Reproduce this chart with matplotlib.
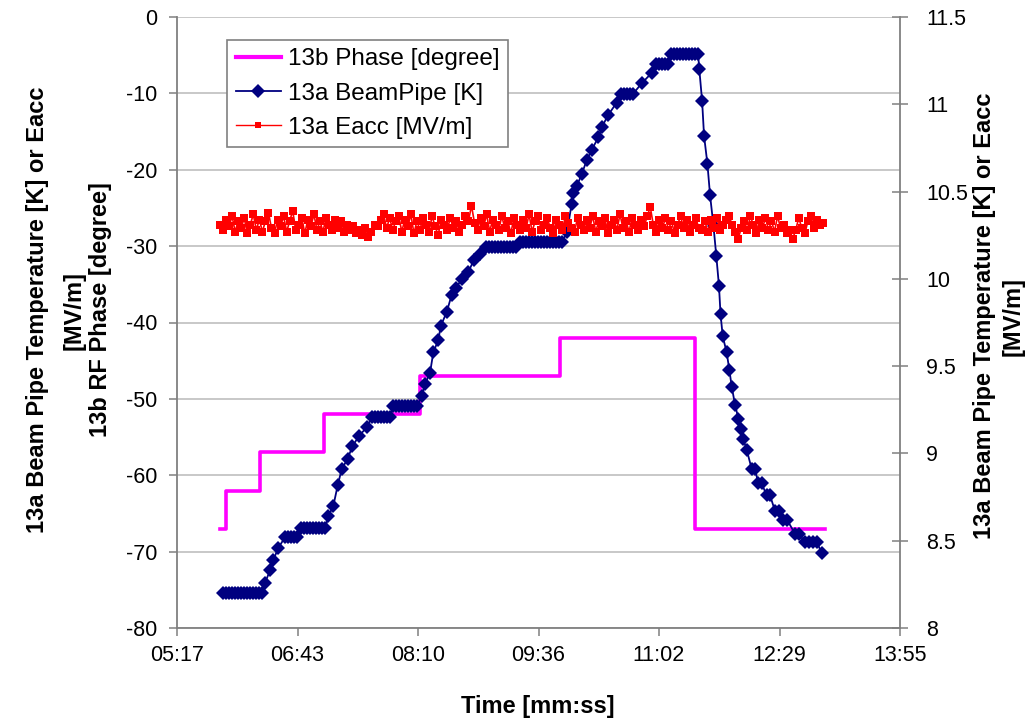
import numpy as np
import matplotlib
matplotlib.use("Agg")
import matplotlib.pyplot as plt
from matplotlib.ticker import FixedLocator, FixedFormatter
from matplotlib.lines import Line2D

plt.rcParams['font.family'] = ['Liberation Sans', 'DejaVu Sans']
plt.rcParams['axes.unicode_minus'] = False

# ---------------- data ----------------
# x axis: time in seconds (Excel mm:ss ticks)
x_tick_values = [316.9, 403.3, 489.7, 576.1, 662.5, 748.9, 835.3]
x_tick_labels = ['05:17', '06:43', '08:10', '09:36', '11:02', '12:29', '13:55']
left_ticks = [-80, -70, -60, -50, -40, -30, -20, -10, 0]
right_ticks = [8, 8.5, 9, 9.5, 10, 10.5, 11, 11.5]
right_tick_labels = ['8', '8.5', '9', '9.5', '10', '10.5', '11', '11.5']

# 13b Phase [degree] (left axis), step changes
phase_t = [347.7, 352.0, 376.1, 422.0, 491.1, 591.5, 688.3, 781.5]
phase_v = [-67, -62, -57, -52, -47, -42, -67, -67]

# 13a BeamPipe [K] (right axis)
beam_t = [
    349.9, 352.1, 354.2, 356.4, 358.5, 360.7, 362.8, 365.0, 367.1, 369.3, 371.4, 373.6, 375.7, 377.9,
    380.1, 383.6, 386.0, 389.6,
    394.4, 396.5, 398.7, 400.8, 403.0,
    405.9, 408.0, 410.2, 412.3, 414.5, 416.6, 418.7, 420.9, 423.1,
    425.4, 429.0, 432.2, 435.0, 439.3, 442.6, 447.4, 453.0,
    456.8, 458.9, 461.1, 463.2, 465.4, 467.5, 469.7,
    471.8, 474.0, 476.1, 478.3, 480.4, 482.6, 484.7, 486.9, 489.0,
    492.4, 494.8, 498.3, 500.7, 504.3, 506.0, 510.3, 513.9, 517.0, 521.3, 525.8, 529.9, 534.2,
    538.5, 540.7, 542.8, 545.0, 547.1, 549.3, 551.4, 553.6, 555.7, 557.9, 560.0,
    562.9, 565.0, 567.2, 569.3, 571.5, 573.6, 575.7, 577.9, 580.0, 582.2, 584.3, 586.5, 588.7, 590.8, 593.0,
    596.6, 599.9, 601.1, 603.5, 607.1, 610.7, 614.3, 619.0, 621.5, 626.2, 632.2,
    635.3, 637.4, 639.6, 641.7, 643.9,
    650.1, 657.3,
    660.4, 662.5, 664.6, 666.8, 669.0,
    671.2, 673.3, 675.4, 677.6, 679.8, 681.9, 684.1, 686.2, 688.4, 690.5,
    691.4, 693.4, 694.8, 697.2, 699.1, 701.6, 703.6, 705.5, 706.6, 708.2,
    711.0, 712.9, 714.7, 717.0, 719.4, 721.1, 723.0, 725.4,
    729.0, 731.3, 733.7, 736.0, 739.7, 742.1, 745.7, 748.5, 751.7, 754.3,
    760.0, 762.9, 767.2, 770.1, 772.9, 775.8, 779.1]
beam_k = [
    8.20, 8.20, 8.20, 8.20, 8.20, 8.20, 8.20, 8.20, 8.20, 8.20, 8.20, 8.20, 8.20, 8.20,
    8.26, 8.33, 8.39, 8.46,
    8.52, 8.52, 8.52, 8.52, 8.52,
    8.57, 8.57, 8.57, 8.57, 8.57, 8.57, 8.57, 8.57, 8.57,
    8.64, 8.70, 8.82, 8.91, 8.97, 9.04, 9.10, 9.15,
    9.21, 9.21, 9.21, 9.21, 9.21, 9.21, 9.21,
    9.27, 9.27, 9.27, 9.27, 9.27, 9.27, 9.27, 9.27, 9.27,
    9.33, 9.40, 9.46, 9.58, 9.65, 9.73, 9.81, 9.91, 9.95, 10.00, 10.04, 10.11, 10.14,
    10.18, 10.18, 10.18, 10.18, 10.18, 10.18, 10.18, 10.18, 10.18, 10.18, 10.18,
    10.21, 10.21, 10.21, 10.21, 10.21, 10.21, 10.21, 10.21, 10.21, 10.21, 10.21, 10.21, 10.21, 10.21, 10.21,
    10.27, 10.43, 10.49, 10.53, 10.60, 10.68, 10.74, 10.81, 10.87, 10.94, 11.01,
    11.06, 11.06, 11.06, 11.06, 11.06,
    11.12, 11.18,
    11.23, 11.23, 11.23, 11.23, 11.23,
    11.29, 11.29, 11.29, 11.29, 11.29, 11.29, 11.29, 11.29, 11.29, 11.29,
    11.20, 11.02, 10.82, 10.66, 10.48, 10.30, 10.13, 9.96, 9.80, 9.67,
    9.58, 9.48, 9.38, 9.28, 9.20, 9.14, 9.08, 9.02,
    8.91, 8.91, 8.83, 8.83, 8.76, 8.76, 8.67, 8.67, 8.62, 8.62,
    8.54, 8.54, 8.49, 8.49, 8.49, 8.49, 8.43]

# 13a Eacc [MV/m] (right axis), sampled evenly between first and last time
eacc_t_first = 347.7
eacc_t_last = 780.1
eacc_v = [
    10.31, 10.28, 10.34, 10.30, 10.36, 10.27, 10.33, 10.29, 10.35, 10.26, 10.31, 10.37, 10.28, 10.34, 10.27, 10.33, 10.38, 10.29, 10.26, 10.34,
    10.30, 10.36, 10.27, 10.33, 10.39, 10.28, 10.31, 10.35, 10.26, 10.34, 10.30, 10.37, 10.28, 10.33, 10.27, 10.35, 10.31, 10.28, 10.34, 10.29,
    10.33, 10.27, 10.31, 10.28, 10.30, 10.26, 10.28, 10.25, 10.29, 10.24, 10.27, 10.31, 10.30, 10.34, 10.37, 10.29, 10.35, 10.28, 10.33, 10.36,
    10.27, 10.34, 10.30, 10.37, 10.26, 10.33, 10.28, 10.35, 10.31, 10.27, 10.36, 10.30, 10.25, 10.34, 10.31, 10.28, 10.35, 10.29, 10.33, 10.27,
    10.31, 10.36, 10.33, 10.42, 10.32, 10.28, 10.35, 10.30, 10.37, 10.27, 10.34, 10.31, 10.28, 10.36, 10.29, 10.33, 10.26, 10.35, 10.31, 10.28,
    10.34, 10.29, 10.37, 10.27, 10.33, 10.36, 10.28, 10.31, 10.35, 10.29, 10.26, 10.34, 10.31, 10.28, 10.36, 10.32, 10.29, 10.27, 10.35, 10.31,
    10.28, 10.34, 10.29, 10.36, 10.27, 10.33, 10.30, 10.35, 10.26, 10.31, 10.34, 10.28, 10.37, 10.29, 10.33, 10.27, 10.35, 10.31, 10.28, 10.34,
    10.30, 10.36, 10.41, 10.31, 10.27, 10.34, 10.29, 10.35, 10.28, 10.33, 10.26, 10.31, 10.36, 10.29, 10.34, 10.27, 10.31, 10.35, 10.29, 10.28,
    10.33, 10.27, 10.34, 10.29, 10.35, 10.28, 10.31, 10.34, 10.36, 10.31, 10.27, 10.23, 10.29, 10.33, 10.28, 10.36, 10.31, 10.26, 10.34, 10.29,
    10.35, 10.28, 10.33, 10.27, 10.36, 10.29, 10.31, 10.26, 10.28, 10.23, 10.28, 10.35, 10.29, 10.26, 10.33, 10.36, 10.29, 10.34, 10.31, 10.32]
eacc_t = np.linspace(eacc_t_first, eacc_t_last, len(eacc_v))

# ---------------- figure ----------------
W, H = 1033, 720
fig = plt.figure(figsize=(W / 100, H / 100), dpi=100)
ax = fig.add_axes([177 / W, 1 - 628 / H, 723 / W, 611 / H])
ax2 = ax.twinx()

grey = '#808080'
ax.set_xlim(x_tick_values[0], x_tick_values[-1])
ax.set_ylim(-80, 0)
ax2.set_ylim(8, 11.5)

ax.yaxis.grid(True, color='#C8C8C8', lw=1.4)
ax.set_axisbelow(True)

ax.plot(phase_t, phase_v, drawstyle='steps-post', color='#FF00FF', lw=2.6, zorder=3)
ax2.plot(beam_t, beam_k, color='#000080', lw=1.3, marker='D', ms=7.2, mew=0, zorder=3)
ax2.plot(eacc_t, eacc_v, color='#FF0000', lw=1.2, marker='s', ms=5.3, mew=0, zorder=4)

ax.xaxis.set_major_locator(FixedLocator(x_tick_values))
ax.xaxis.set_major_formatter(FixedFormatter(x_tick_labels))
ax.yaxis.set_major_locator(FixedLocator(left_ticks))
ax2.yaxis.set_major_locator(FixedLocator(right_ticks))
ax2.yaxis.set_major_formatter(FixedFormatter(right_tick_labels))

for a in (ax, ax2):
    for s in a.spines.values():
        s.set_visible(False)
ax.spines['left'].set_visible(True)
ax.spines['bottom'].set_visible(True)
ax2.spines['right'].set_visible(True)
for s in (ax.spines['left'], ax.spines['bottom'], ax2.spines['right']):
    s.set_color(grey)
    s.set_linewidth(1.3)

ax.tick_params(axis='y', direction='out', length=6, width=1.1, color=grey, pad=8, labelsize=15.5)
ax.tick_params(axis='x', direction='out', length=6, width=1.1, color=grey, pad=6, labelsize=15.5)
ax2.tick_params(axis='y', direction='inout', length=12, width=1.1, color=grey, pad=13, labelsize=15.5)

handles = [
    Line2D([], [], color='#FF00FF', lw=3.0),
    Line2D([], [], color='#000080', lw=1.3, marker='D', ms=7, mew=0),
    Line2D([], [], color='#FF0000', lw=1.0, marker='s', ms=4.8, mew=0),
]
labels = ['13b Phase [degree]', '13a BeamPipe [K]', '13a Eacc [MV/m]']
leg = ax2.legend(handles, labels, loc='upper left', bbox_to_anchor=(0.0696, 0.9624),
                 borderaxespad=0, fontsize=17.5, frameon=True, fancybox=False,
                 edgecolor=grey, framealpha=1, borderpad=0.35, labelspacing=0.5,
                 handlelength=1.85, handletextpad=0.3, numpoints=1)
leg.get_frame().set_linewidth(1.2)

lab = dict(fontsize=17, fontweight='bold', ha='center', va='center', rotation=90)
fig.text(38 / W, 1 - 310 / H, '13a Beam Pipe Temperature [K] or Eacc', **lab)
fig.text(74 / W, 1 - 310 / H, '[MV/m]', **lab)
fig.text(101 / W, 1 - 310 / H, '13b RF Phase [degree]', **lab)
fig.text(985 / W, 1 - 316 / H, '13a Beam Pipe Temperature [K] or Eacc', **lab)
fig.text(1013 / W, 1 - 316 / H, '[MV/m]', **lab)
fig.text(538 / W, 1 - 706 / H, 'Time [mm:ss]', fontsize=17, fontweight='bold',
         ha='center', va='center')

fig.savefig('out.png', dpi=100)
